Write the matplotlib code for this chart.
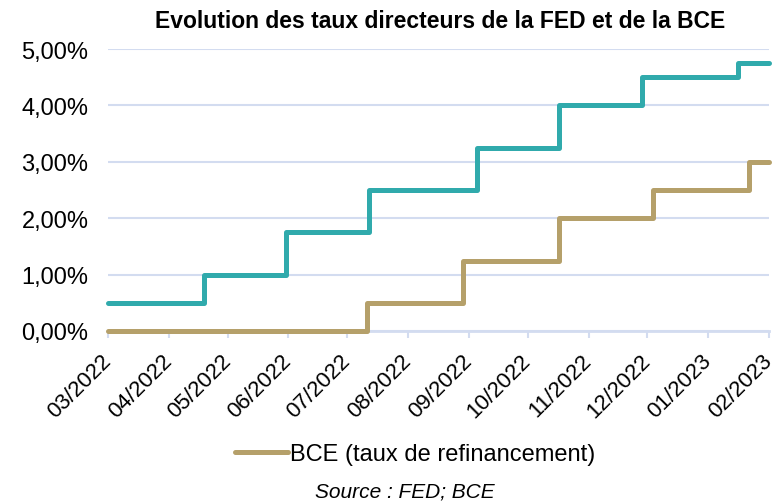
import pandas as pd
import matplotlib.pyplot as plt
import matplotlib.dates as mdates
from matplotlib.ticker import FuncFormatter

plt.rcParams['font.family'] = ['Liberation Sans', 'DejaVu Sans']

# Taux directeurs (en %), dates des changements
fed_dates = ['2022-03-01', '2022-04-19', '2022-05-31', '2022-07-12', '2022-09-05',
             '2022-10-17', '2022-11-28', '2023-01-16', '2023-02-01']
fed_rates = [0.5, 1.0, 1.75, 2.5, 3.25, 4.0, 4.5, 4.75, 4.75]

bce_dates = ['2022-03-01', '2022-07-11', '2022-08-29', '2022-10-17', '2022-12-04',
             '2023-01-22', '2023-02-01']
bce_rates = [0.0, 0.5, 1.25, 2.0, 2.5, 3.0, 3.0]

mois = pd.date_range('2022-03-01', '2023-02-01', freq='MS')

teal = '#30AAAC'
tan = '#B5A06A'
grille = '#D3DCF0'

fig = plt.figure(figsize=(7.8, 5.02), dpi=100)
ax = fig.add_axes([108 / 780, 1 - 332 / 502, 661 / 780, 282 / 502])

ax.plot(pd.to_datetime(fed_dates), fed_rates, drawstyle='steps-post', color=teal,
        lw=3.6, solid_capstyle='round', solid_joinstyle='round', clip_on=False, zorder=3,
        label='FED (taux des fonds fédéraux)')
bce_line, = ax.plot(pd.to_datetime(bce_dates), bce_rates, drawstyle='steps-post', color=tan,
                    lw=3.6, solid_capstyle='round', solid_joinstyle='round', clip_on=False,
                    zorder=3, label='BCE (taux de refinancement)')

ax.set_xlim(mois[0], mois[-1])
ax.set_ylim(0, 5)
ax.set_yticks([0, 1, 2, 3, 4, 5])
ax.yaxis.set_major_formatter(FuncFormatter(lambda v, p: f'{v:.2f}%'.replace('.', ',')))
ax.set_xticks(mois)
ax.xaxis.set_major_formatter(mdates.DateFormatter('%m/%Y'))
plt.setp(ax.get_xticklabels(), rotation=45, ha='right', va='center', rotation_mode='anchor')

ax.grid(axis='y', color=grille, lw=1.5)
ax.set_axisbelow(True)
for s in ['top', 'right', 'left']:
    ax.spines[s].set_visible(False)
ax.spines['bottom'].set_color(grille)
ax.spines['bottom'].set_linewidth(2)
ax.tick_params(axis='y', length=0, labelsize=17, pad=14)
ax.tick_params(axis='x', color=grille, width=1.5, length=5, labelsize=16, pad=14)

fig.text(440 / 780, 1 - 22 / 502, 'Evolution des taux directeurs de la FED et de la BCE',
         ha='center', va='center', fontsize=16.5, fontweight='bold')

fig.legend(handles=[bce_line], loc='center', bbox_to_anchor=(415 / 780, 1 - 455 / 502),
           frameon=False, fontsize=17, handlelength=2.25, handletextpad=0.1)

fig.text(405 / 780, 1 - 492 / 502, 'Source : FED; BCE', ha='center', va='center',
         fontsize=15, style='italic')

plt.savefig('out.png', dpi=100)
